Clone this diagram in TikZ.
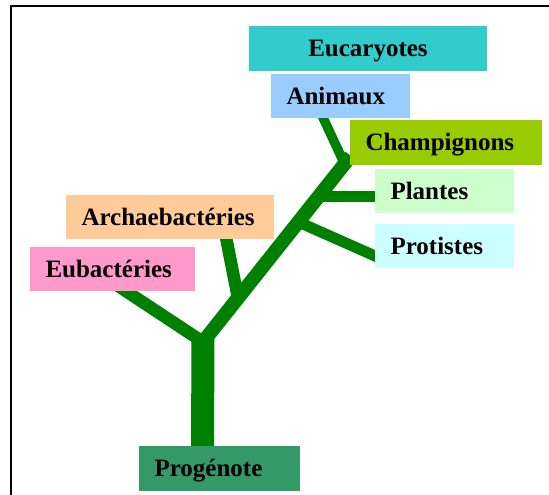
\documentclass[tikz,border=0pt]{standalone}
\usepackage{fontspec}
\setmainfont{Liberation Serif}
\usetikzlibrary{positioning,calc,backgrounds}

\definecolor{treegreen}{HTML}{008000}
\definecolor{eucfill}{HTML}{33CCCC}
\definecolor{animfill}{HTML}{99CCFF}
\definecolor{champfill}{HTML}{99CC00}
\definecolor{plantfill}{HTML}{CCFFCC}
\definecolor{protfill}{HTML}{CCFFFF}
\definecolor{archfill}{HTML}{FFCC99}
\definecolor{eubfill}{HTML}{FF99CC}
\definecolor{progfill}{HTML}{339966}

\begin{document}
\begin{tikzpicture}[x=1pt, y=1pt, box/.style={minimum height=44pt, text width=#1, inner xsep=15.5pt, inner ysep=0pt, align=left, text height=16.5pt, text depth=0pt, font=\bfseries\fontsize{25}{30}\selectfont}, branch/.style={draw=treegreen, line cap=butt}]
\useasboundingbox (0,0) rectangle (549,495);
\draw[line width=2pt] (10.5,0) -- (10.5,488.8) -- (549,488.8);

% groups
\node[box=207pt, align=center, minimum height=45pt, fill=eucfill] (euc) at (368,446.5) {Eucaryotes};
\node[box=108pt, fill=animfill] (anim) at (340.5,399) {Animaux};
\node[box=161pt, minimum height=45pt, fill=champfill] (champ) at (446,352.5) {Champignons};
\node[box=108pt, fill=plantfill] (plant) at (444.5,304) {Plantes};
\node[box=108pt, fill=protfill, below=11pt of plant] (prot) {Protistes};
\node[box=177pt, fill=archfill] (arch) at (170,278) {Archaebactéries};
\node[box=134pt, fill=eubfill] (eub) at (112.5,226) {Eubactéries};
\node[box=130pt, minimum height=45pt, fill=progfill] (prog) at (219.5,26.5) {Progénote};

% forks of the tree
\coordinate (root) at (203,153);
\coordinate (jarch) at (238,197);
\coordinate (jprot) at (298.4,273);
\coordinate (jplant) at (318.7,298.5);
\coordinate (janim) at (344.6,331);
\coordinate (eubend) at ($(eub.south)+(-3,11)$);
\coordinate (mainend) at ($(champ.west)+(1,-13.5)$);
\coordinate (archend) at ($(arch.south)+(55,7)$);
\coordinate (animend) at ($(anim.south)+(-20,6)$);
\coordinate (plantend) at ($(plant.west)+(5,-5.5)$);
\coordinate (protend) at ($(prot.west)+(7,-12.6)$);

\begin{scope}[on background layer]
\draw[branch, line width=23pt] ($(prog.north)+(-17,-4)$) -- ($(root)+(0,6)$);
\foreach \a/\b/\w in {root/eubend/12.5, root/mainend/14, jarch/archend/12.5, janim/animend/9.5, jplant/plantend/10.5, jprot/protend/11}
  \draw[branch, line width=\w pt] (\a) -- (\b);
\end{scope}
\end{tikzpicture}
\end{document}
